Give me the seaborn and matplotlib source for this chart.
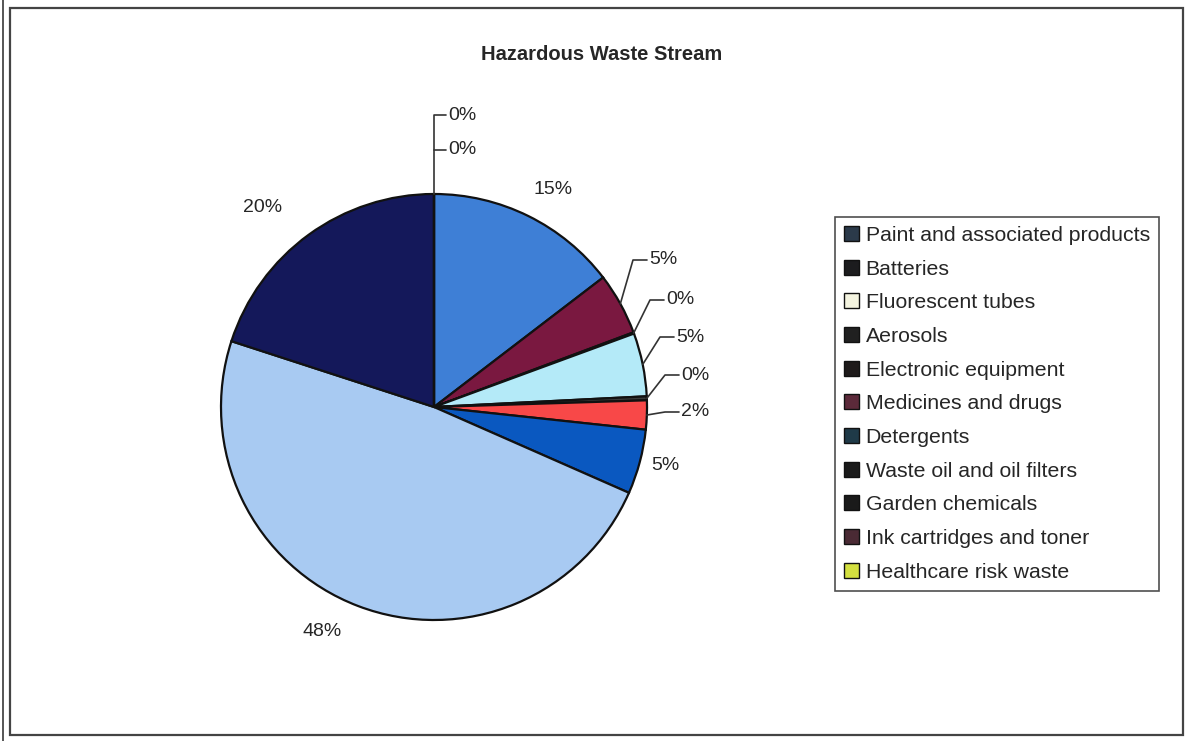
import matplotlib
matplotlib.use("Agg")
import matplotlib.pyplot as plt
from matplotlib.patches import Patch, Rectangle
import numpy as np
import seaborn as sns

sns.set_theme(style="white")
plt.rcParams['font.family'] = ['Liberation Sans', 'DejaVu Sans']

title = "Hazardous Waste Stream"
categories = ["Paint and associated products", "Batteries", "Fluorescent tubes", "Aerosols",
              "Electronic equipment", "Medicines and drugs", "Detergents",
              "Waste oil and oil filters", "Garden chemicals", "Ink cartridges and toner",
              "Healthcare risk waste"]
values = [14.6, 4.7, 0.1, 4.8, 0.3, 2.2, 4.9, 48.4, 20.0, 0.0, 0.0]
pie_colors = ["#3e7fd6", "#7a1840", "#f4f4f4", "#b4eaf8", "#3a3a3a", "#f84848",
              "#0a58c0", "#a8caf2", "#14185a", "#80c0e0", "#d4e040"]
legend_colors = ["#2b3a4a", "#1c1c1e", "#f4f4e0", "#202020", "#1e1a1a", "#5c2a3a",
                 "#1f3a48", "#1a1a1a", "#1a1a1a", "#4a2a34", "#d4e040"]

W, H = 1195, 741
fig = plt.figure(figsize=(W / 100, H / 100), dpi=100)
ax = fig.add_axes([0, 0, 1, 1])

def Y(y):
    return H - y

cx, cy, r = 434, Y(407), 213
wedges, _ = ax.pie(values, colors=pie_colors, startangle=90, counterclock=False,
                   radius=r, center=(cx, cy), frame=True,
                   wedgeprops=dict(edgecolor="#111111", linewidth=1.6))
ax.set_xlim(0, W)
ax.set_ylim(0, H)
ax.set_aspect('equal')
ax.axis('off')

# frames
ax.add_patch(Rectangle((10, Y(735)), 1173, 727, fill=False, edgecolor="#444444", lw=1.6))
ax.plot([3, 3], [0, H], color="#555555", lw=1.4)

ax.text(602, Y(55), title, ha='center', va='center', fontsize=14.5, fontweight='bold')

labels = [f"{round(v)}%" for v in values]
fs = 14

def edge_point(w, frac=1.0):
    ang = np.deg2rad((w.theta1 + w.theta2) / 2)
    return cx + r * frac * np.cos(ang), cy + r * frac * np.sin(ang)

# plain labels
plain = {0: (553, 190), 6: (665, 466), 7: (322, 632), 8: (263, 207)}
for i, (tx, ty) in plain.items():
    ax.text(tx, Y(ty), labels[i], ha='center', va='center', fontsize=fs)

# leader labels on the right
leader = {1: (633, 260), 2: (650, 300), 3: (660, 337), 4: (665, 375), 5: (665, 412)}
for i, (kx, ky) in leader.items():
    px, py = edge_point(wedges[i])
    ax.plot([px, kx, kx + 14], [py, Y(ky), Y(ky)], color="#333333", lw=1.2)
    ax.text(kx + 16, Y(ky), labels[i], ha='left', va='center', fontsize=fs)

# leader labels at the top
top_y = [115, 150]
ax.plot([cx, cx, cx + 12], [cy + r, Y(top_y[0]), Y(top_y[0])], color="#333333", lw=1.2)
ax.plot([cx, cx + 12], [Y(top_y[1]), Y(top_y[1])], color="#333333", lw=1.2)
for i, ty in zip([9, 10], top_y):
    ax.text(cx + 14, Y(ty), labels[i], ha='left', va='center', fontsize=fs)

handles = [Patch(facecolor=c, edgecolor="#111111", linewidth=1.0) for c in legend_colors]
leg = ax.legend(handles, categories, loc='upper left',
                bbox_to_anchor=(835 / W, 1 - 217 / H), bbox_transform=fig.transFigure,
                borderaxespad=0, frameon=True, fancybox=False, fontsize=15.3,
                handlelength=0.72, handleheight=0.72, handletextpad=0.3,
                labelspacing=0.69, borderpad=0.42)
leg.get_frame().set_edgecolor("#222222")
leg.get_frame().set_linewidth(1.2)

fig.savefig("out.png", dpi=100, facecolor="white")
